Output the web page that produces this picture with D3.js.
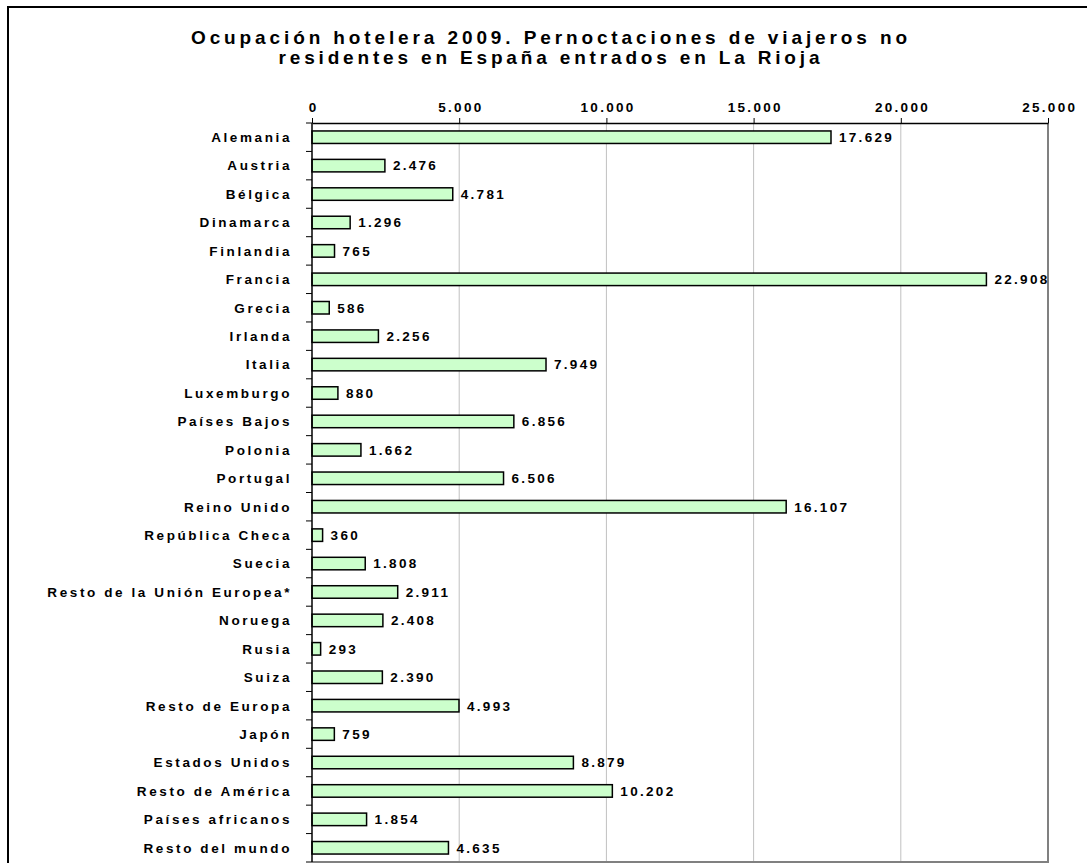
<!DOCTYPE html>
<html>
<head>
<meta charset="utf-8">
<script src="https://cdn.jsdelivr.net/npm/d3@7"></script>
<style>
  body { margin: 0; background: #fff; }
  text { font-family: "Liberation Sans", Arial, sans-serif; font-weight: bold; fill: #000; }
</style>
</head>
<body>
<div id="chart"></div>
<script>
// data
var countries = ["Alemania", "Austria", "Bélgica", "Dinamarca", "Finlandia", "Francia", "Grecia",
    "Irlanda", "Italia", "Luxemburgo", "Países Bajos", "Polonia", "Portugal", "Reino Unido",
    "República Checa", "Suecia", "Resto de la Unión Europea*", "Noruega", "Rusia", "Suiza",
    "Resto de Europa", "Japón", "Estados Unidos", "Resto de América", "Países africanos",
    "Resto del mundo"];
var nights = [17629, 2476, 4781, 1296, 765, 22908, 586, 2256, 7949, 880, 6856, 1662, 6506, 16107,
    360, 1808, 2911, 2408, 293, 2390, 4993, 759, 8879, 10202, 1854, 4635];
var xTicks = [0, 5000, 10000, 15000, 20000, 25000];
var titleLines = ["Ocupación hotelera 2009. Pernoctaciones de viajeros no",
    "residentes en España entrados en La Rioja"];

var W = 1087, H = 863;
var plot = { left: 312, right: 1048, top: 123, bottom: 862 };

var es = d3.formatLocale({ decimal: ",", thousands: ".", grouping: [3], currency: ["", " €"] });
var fmt = es.format(",d");

var svg = d3.select("#chart").append("svg")
    .attr("width", W)
    .attr("height", H);

svg.append("rect").attr("width", W).attr("height", H).attr("fill", "#fff");

// chart frame (runs off the right and bottom of the window)
svg.append("rect")
    .attr("x", 8).attr("y", 7)
    .attr("width", W + 20).attr("height", H + 20)
    .attr("fill", "none").attr("stroke", "#000").attr("stroke-width", 2);

// title
svg.selectAll(".title")
    .data(titleLines)
    .enter().append("text")
    .attr("class", "title")
    .attr("x", 549)
    .attr("y", function (d, i) { return 44 + i * 20; })
    .attr("text-anchor", "middle")
    .style("font-size", "19px")
    .attr("textLength", function (d, i) { return i == 0 ? 716 : 541; })
    .attr("lengthAdjust", "spacing")
    .text(function (d) { return d; });

var x = d3.scaleLinear().domain([0, 25000]).range([plot.left, plot.right]);
var y = d3.scaleBand().domain(countries).range([plot.top, plot.bottom])
    .paddingInner(0.56).paddingOuter(0.28);

// gridlines
svg.append("g")
    .selectAll("line")
    .data(xTicks.slice(1, -1))
    .enter().append("line")
    .attr("x1", function (d) { return x(d); })
    .attr("x2", function (d) { return x(d); })
    .attr("y1", plot.top).attr("y2", plot.bottom)
    .attr("stroke", "#c0c0c0").attr("stroke-width", 1);

// plot area edges on the right and bottom
svg.append("path")
    .attr("d", "M" + x(25000) + "," + plot.top + "V" + plot.bottom + "H" + plot.left)
    .attr("fill", "none").attr("stroke", "#808080").attr("stroke-width", 2);

// bars
svg.append("g")
    .selectAll("rect")
    .data(countries)
    .enter().append("rect")
    .attr("x", x(0))
    .attr("y", function (d) { return y(d); })
    .attr("width", function (d, i) { return x(nights[i]) - x(0); })
    .attr("height", y.bandwidth())
    .attr("fill", "#ccffcc")
    .attr("stroke", "#000").attr("stroke-width", 1.5);

// value labels
svg.append("g")
    .selectAll("text")
    .data(countries)
    .enter().append("text")
    .attr("x", function (d, i) { return x(nights[i]) + 8; })
    .attr("y", function (d) { return y(d) + y.bandwidth() / 2; })
    .attr("dy", "0.36em")
    .style("font-size", "13.5px")
    .style("letter-spacing", "2.3px")
    .text(function (d, i) { return fmt(nights[i]); });

// top axis
var xAxis = svg.append("g")
    .attr("transform", "translate(0," + plot.top + ")")
    .call(d3.axisTop(x).tickValues(xTicks).tickFormat(fmt).tickSize(5).tickSizeOuter(0));
xAxis.select(".domain").attr("stroke", "#000").attr("stroke-width", 1.5);
xAxis.selectAll(".tick line").attr("stroke", "#000");
xAxis.selectAll(".tick text")
    .attr("y", -11)
    .attr("dx", "1.2px")
    .style("font-size", "13.5px")
    .style("letter-spacing", "2.3px")
    .style("font-family", "'Liberation Sans', Arial, sans-serif")
    .style("font-weight", "bold");

// category axis: ticks sit between categories
var bounds = d3.range(countries.length + 1).map(function (i) { return plot.top + i * y.step(); });
svg.append("g")
    .selectAll("line")
    .data(bounds)
    .enter().append("line")
    .attr("x1", plot.left - 6).attr("x2", plot.left)
    .attr("y1", function (d) { return d; }).attr("y2", function (d) { return d; })
    .attr("stroke", "#000");
svg.append("line")
    .attr("x1", plot.left).attr("x2", plot.left)
    .attr("y1", plot.top).attr("y2", plot.bottom)
    .attr("stroke", "#000").attr("stroke-width", 1.5);

svg.append("g")
    .selectAll("text")
    .data(countries)
    .enter().append("text")
    .attr("x", 292)
    .attr("y", function (d) { return y(d) + y.bandwidth() / 2; })
    .attr("dy", "0.36em")
    .attr("text-anchor", "end")
    .style("font-size", "13.5px")
    .style("letter-spacing", "2.6px")
    .text(function (d) { return d; });
</script>
</body>
</html>
